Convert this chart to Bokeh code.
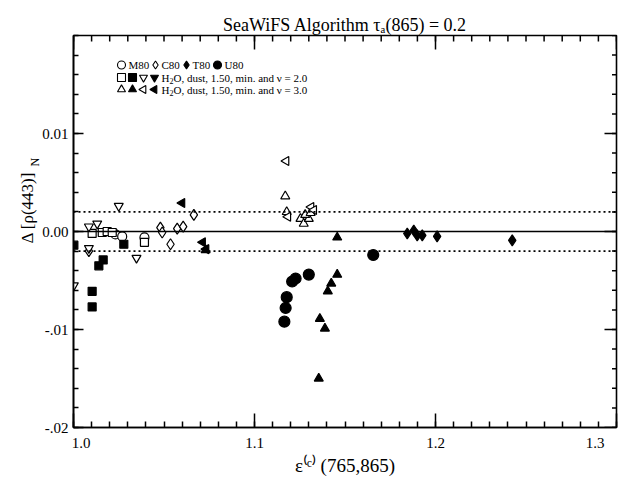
import math
from bokeh.plotting import figure
from bokeh.models import Range1d, FixedTicker, LinearAxis, Span, Label, Title
from bokeh.embed import file_html
from bokeh.resources import INLINE

# ---------------- data ----------------
x_ticks = [1.0, 1.1, 1.2, 1.3]
x_tick_labels = ["\u2007\u20071.0", "1.1", "1.2", "1.3\u2007\u2007"]
y_ticks = [-0.02, -0.01, 0.0, 0.01]
y_tick_labels = ["-.02", "-.01", "0.00", "0.01"]

m80_x = [1.0232, 1.0269, 1.0392]
m80_y = [-0.0003, -0.0005, -0.0006]

c80_x = [1.0085, 1.0480, 1.0490, 1.0536, 1.0573, 1.0606, 1.0665]
c80_y = [-0.0020, 0.0004, -0.0001, -0.0013, 0.0003, 0.0005, 0.0017]

t80_x = [1.1844, 1.1880, 1.1899, 1.1927, 1.2009, 1.2424]
t80_y = [-0.0002, 0.0001, -0.0004, -0.0004, -0.0005, -0.0009]

u80_x = [1.1165, 1.1172, 1.1178, 1.1208, 1.1227, 1.1300, 1.1656]
u80_y = [-0.0092, -0.0078, -0.0067, -0.0051, -0.0048, -0.0044, -0.0024]

n2_open_sq_x = [1.0103, 1.0159, 1.0186, 1.0214, 1.0392]
n2_open_sq_y = [-0.0002, -0.0001, 0.0000, -0.0001, -0.0011]

n2_fill_sq_x = [1.0002, 1.0278, 1.0164, 1.0140, 1.0103, 1.0103]
n2_fill_sq_y = [-0.0014, -0.0013, -0.0029, -0.0035, -0.0061, -0.0077]

n2_open_dn_x = [1.0250, 1.0085, 1.0131, 1.0085, 1.0348, 1.0002]
n2_open_dn_y = [0.0026, 0.0005, 0.0008, -0.0017, -0.0027, -0.0055]

n2_fill_dn_x = []
n2_fill_dn_y = []

n3_open_up_x = [1.1170, 1.1178, 1.1254, 1.1272, 1.1300, 1.1280, 1.1310]
n3_open_up_y = [0.0036, 0.0020, 0.0013, 0.0008, 0.0013, 0.0017, 0.0019]

n3_fill_up_x = [1.0730, 1.1457, 1.1457, 1.1424, 1.1405, 1.1361, 1.1389, 1.1355]
n3_fill_up_y = [-0.0019, -0.0006, -0.0044, -0.0053, -0.0061, -0.0089, -0.0099, -0.0150]

n3_open_lt_x = [1.1175, 1.1313, 1.1328, 1.1185]
n3_open_lt_y = [0.0072, 0.0025, 0.0022, 0.0015]

n3_fill_lt_x = [1.0600, 1.0714, 1.0733]
n3_fill_lt_y = [0.0029, -0.0011, -0.0018]

X0, X1 = 1.0, 1.3
Y0, Y1 = -0.02, 0.02

# ---------------- figure ----------------
FONT = "Liberation Serif"
W, H = 619, 479
p = figure(width=W, height=H, output_backend="svg", toolbar_location=None,
           x_range=Range1d(X0, X1), y_range=Range1d(Y0, Y1),
           min_border_left=73, min_border_right=3, min_border_top=35, min_border_bottom=52,
           x_axis_location=None, y_axis_location=None)
p.grid.visible = False
p.outline_line_color = "black"
p.outline_line_width = 1.6
p.background_fill_color = "white"
p.border_fill_color = "white"

p.title.text = "SeaWiFS Algorithm \u03c4\u2090(865) = 0.2"
p.title.align = "center"
p.title.text_font = FONT
p.title.text_font_size = "18px"
p.title.text_font_style = "normal"
p.title.text_color = "black"
p.title.standoff = 2

x_minor = [round(X0 + 0.01 * i, 2) for i in range(31)]
y_minor = [round(Y0 + 0.002 * i, 3) for i in range(21)]

xax = LinearAxis(ticker=FixedTicker(ticks=x_ticks, minor_ticks=x_minor))
xax.major_label_overrides = {t: l for t, l in zip(x_ticks, x_tick_labels)}
xax.axis_label = "\u03b5\u207d\u1d9c\u207e (765,865)"
yax = LinearAxis(ticker=FixedTicker(ticks=y_ticks, minor_ticks=y_minor))
yax.major_label_overrides = {t: l for t, l in zip(y_ticks, y_tick_labels)}
for ax in (xax, yax):
    ax.axis_line_color = "black"
    ax.axis_line_width = 1.6
    ax.major_tick_line_width = 1.5
    ax.minor_tick_line_width = 1.5
    ax.major_tick_out = 0
    ax.minor_tick_out = 0
    ax.major_label_text_font = FONT
    ax.major_label_text_font_size = "15px"
    ax.major_label_text_color = "black"
    ax.axis_label_text_font = FONT
    ax.axis_label_text_font_style = "normal"
    ax.axis_label_text_font_size = "19px"
    ax.axis_label_text_color = "black"
xax.major_tick_in = 14
xax.minor_tick_in = 6
xax.major_label_standoff = 7
xax.axis_label_standoff = 1
yax.major_tick_in = 10
yax.minor_tick_in = 5
yax.major_label_standoff = 5
p.add_layout(xax, "below")
p.add_layout(yax, "left")

# y-axis title built from two side titles so that N can be a subscript
t_n = Title(text="N", align="left", offset=261, standoff=-4, text_font=FONT,
            text_font_size="12px", text_font_style="normal", text_color="black")
t_main = Title(text="\u0394 [\u03c1(443)]", align="left", offset=184, standoff=-19,
               text_font=FONT, text_font_size="17px", text_font_style="normal",
               text_color="black")
p.add_layout(t_n, "left")
p.add_layout(t_main, "left")

# mirrored ticks on the top and right frame edges (half of each dash is clipped)
p.scatter(x_minor, [Y1] * len(x_minor), marker="dash", angle=math.pi / 2, size=12,
          line_color="black", line_width=1.5)
p.scatter(x_ticks, [Y1] * len(x_ticks), marker="dash", angle=math.pi / 2, size=28,
          line_color="black", line_width=1.5)
p.scatter([X1] * len(y_minor), y_minor, marker="dash", size=9,
          line_color="black", line_width=1.5)
p.scatter([X1] * len(y_ticks), y_ticks, marker="dash", size=24,
          line_color="black", line_width=1.5)

# reference lines
p.add_layout(Span(location=0.0, dimension="width", line_color="black", line_width=1.6))
for loc in (0.002, -0.002):
    p.add_layout(Span(location=loc, dimension="width", line_color="black",
                      line_width=1.6, line_dash="2 3"))

SZ = 9
LW = 1.2
def pts(xs, ys, marker, filled, size=SZ, angle=0.0):
    p.scatter(xs, ys, marker=marker, size=size, angle=angle,
              line_color="black", line_width=LW,
              fill_color="black" if filled else "white")

pts(m80_x, m80_y, "circle", False)
pts(c80_x, c80_y, "diamond", False, size=11)
pts(n2_open_sq_x, n2_open_sq_y, "square", False, size=8)
pts(n2_open_dn_x, n2_open_dn_y, "inverted_triangle", False)
pts(n3_open_up_x, n3_open_up_y, "triangle", False)
pts(n3_open_lt_x, n3_open_lt_y, "triangle", False, angle=math.pi / 2)
pts(t80_x, t80_y, "diamond", True, size=11)
pts(u80_x, u80_y, "circle", True, size=11)
pts(n2_fill_sq_x, n2_fill_sq_y, "square", True, size=8)
pts(n2_fill_dn_x, n2_fill_dn_y, "inverted_triangle", True)
pts(n3_fill_up_x, n3_fill_up_y, "triangle", True)
pts(n3_fill_lt_x, n3_fill_lt_y, "triangle", True, angle=math.pi / 2)

# ---------------- legend (drawn in data space, no box) ----------------
def px2x(px):
    return X0 + (px - 73) / 1810.0

def py2y(py):
    return (231.5 - py) / 9800.0

leg_rows = [65, 77.5, 89.5]
legend_marks = [
    (0, 121, "circle", False, 0.0), (0, 155, "diamond", False, 0.0),
    (0, 186, "diamond", True, 0.0), (0, 217, "circle", True, 0.0),
    (1, 121, "square", False, 0.0), (1, 132, "square", True, 0.0),
    (1, 143, "inverted_triangle", False, 0.0), (1, 154, "inverted_triangle", True, 0.0),
    (2, 121, "triangle", False, 0.0), (2, 132, "triangle", True, 0.0),
    (2, 143, "triangle", False, math.pi / 2), (2, 154, "triangle", True, math.pi / 2),
]
for row, px, mk, filled, ang in legend_marks:
    p.scatter([px2x(px)], [py2y(leg_rows[row])], marker=mk, size=8, angle=ang,
              line_color="black", line_width=1.1, fill_color="black" if filled else "white")

LEG_FS = "11px"
for px, txt in [(128, "M80"), (161, "C80"), (192, "T80"), (224, "U80")]:
    p.add_layout(Label(x=px2x(px), y=py2y(leg_rows[0]), text=txt, text_font=FONT,
                       text_font_size=LEG_FS, text_baseline="middle", text_color="black"))
for row, nu in [(1, "2.0"), (2, "3.0")]:
    p.add_layout(Label(x=px2x(161), y=py2y(leg_rows[row]), text="H", text_font=FONT,
                       text_font_size=LEG_FS, text_baseline="middle", text_color="black"))
    p.add_layout(Label(x=px2x(169), y=py2y(leg_rows[row] + 3), text="2", text_font=FONT,
                       text_font_size="8px", text_baseline="middle", text_color="black"))
    p.add_layout(Label(x=px2x(173), y=py2y(leg_rows[row]),
                       text="O, dust, 1.50, min. and \u03bd = " + nu, text_font=FONT,
                       text_font_size=LEG_FS, text_baseline="middle", text_color="black"))

open("out.html", "w").write(file_html(p, INLINE))
